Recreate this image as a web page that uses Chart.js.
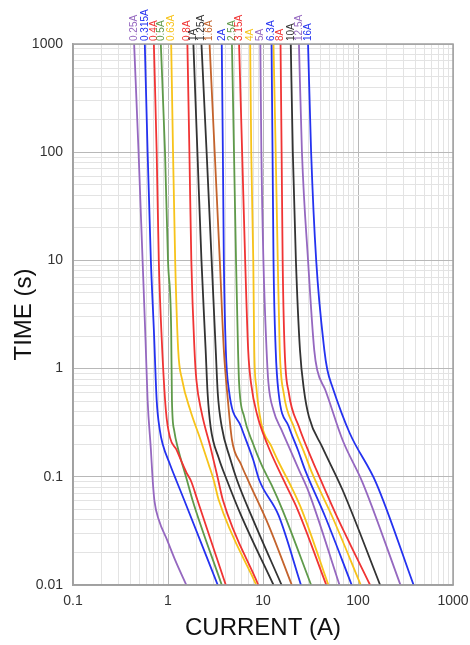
<!DOCTYPE html>
<html>
<head>
<meta charset="utf-8">
<script src="https://cdn.jsdelivr.net/npm/chart.js@4.4.1/dist/chart.umd.min.js"></script>
<style>
  html, body { margin: 0; padding: 0; background: #fff; }
  #wrap { width: 470px; height: 645px; }
</style>
</head>
<body>
<div id="wrap"><canvas id="fuseChart" width="470" height="645"></canvas></div>
<script>
// fuse ratings, left to right (the unlabeled yellow curve sits under the 6.3A / 8A labels)
const ratings = ['0.25A', '0.315A', '0.4A', '0.5A', '0.63A', '0.8A', '1A', '1.25A', '1.6A', '2A',
                 '2.5A', '3.15A', '4A', '5A', '6.3A', '', '8A', '10A', '12.5A', '16A'];

// [current (A), time (s)]
const a0_25  = [[0.44,1000],[0.49,100],[0.54,10],[0.58,1.84],[0.61,0.51],[0.66,0.18],[0.69,0.093],[0.72,0.06],[0.80,0.04],[0.98,0.026],[1.19,0.017],[1.56,0.01]];
const a0_315 = [[0.57,1000],[0.61,100],[0.66,10],[0.71,2.27],[0.76,0.51],[0.82,0.27],[0.88,0.20],[1.05,0.13],[1.22,0.093],[1.48,0.061],[3.34,0.01]];
const a0_4   = [[0.71,1000],[0.76,100],[0.80,10],[0.86,1.84],[0.95,0.41],[1.05,0.23],[1.22,0.18],[1.38,0.14],[1.56,0.11],[1.76,0.09],[2.04,0.061],[4.06,0.01]];
const a0_5   = [[0.84,1000],[0.93,100],[1.0,10],[1.08,2.27],[1.10,0.51],[1.16,0.27],[1.28,0.18],[1.56,0.0975],[1.81,0.061],[3.68,0.01]];
const a0_63  = [[1.08,1000],[1.13,100],[1.19,10],[1.28,1.49],[1.41,0.785],[1.72,0.41],[2.20,0.22],[2.68,0.13],[3.03,0.093],[3.42,0.061],[8.5,0.01]];
const a0_8   = [[1.60,1000],[1.68,100],[1.76,10],[1.90,1.49],[1.99,0.785],[2.25,0.40],[2.81,0.185],[3.34,0.0975],[3.78,0.061],[8.93,0.01]];
const a1     = [[1.85,1000],[2.04,100],[2.25,10],[2.49,1.49],[2.61,0.595],[2.81,0.29],[3.42,0.149],[4.17,0.093],[5.88,0.044],[12.9,0.01]];
const a1_25  = [[2.25,1000],[2.55,100],[2.88,10],[3.18,1.49],[3.34,0.595],[3.68,0.29],[4.49,0.149],[5.33,0.093],[7.52,0.044],[15.7,0.01]];
const a1_6   = [[2.74,1000],[3.10,100],[3.51,10],[3.87,1.49],[4.27,0.51],[4.71,0.22],[5.88,0.13],[7.16,0.088],[11.4,0.036],[20.1,0.01]];
const a2     = [[3.68,1000],[3.78,100],[3.87,10],[4.06,1.49],[4.38,0.63],[5.88,0.29],[7.90,0.143],[9.15,0.093],[14.6,0.044],[25.1,0.01]];
const a2_5   = [[4.71,1000],[4.95,100],[5.20,10],[5.46,1.49],[5.60,0.74],[6.33,0.36],[7.90,0.20],[9.61,0.13],[12.3,0.084],[16.1,0.049],[32.1,0.01]];
const a3_15  = [[5.60,1000],[6.03,100],[6.49,10],[6.98,1.49],[7.52,0.71],[8.71,0.37],[11.1,0.20],[16.5,0.093],[23.3,0.049],[46.4,0.01]];
const a4     = [[7.33,1000],[7.52,100],[7.90,10],[8.09,1.49],[8.50,0.68],[9.61,0.31],[12.3,0.19],[14.6,0.137],[20.1,0.079],[25.7,0.049],[48.8,0.01]];
const a5     = [[9.38,1000],[9.61,100],[10.1,10],[10.9,1.49],[11.4,0.74],[12.9,0.41],[15.7,0.27],[18.7,0.19],[23.9,0.116],[30.5,0.071],[63.9,0.01]];
const a6_3   = [[12.3,1000],[12.6,100],[12.9,10],[13.6,1.49],[14.6,0.595],[18.7,0.29],[23.3,0.177],[27.7,0.116],[45.3,0.0425],[85.9,0.01]];
const aYel   = [[12.9,1000],[13.6,100],[14.3,10],[15.0,1.49],[16.5,0.595],[21.1,0.29],[27.0,0.17],[32.9,0.108],[53.8,0.0425],[107,0.01]];
const a8     = [[15.3,1000],[15.7,100],[16.1,10],[16.9,1.49],[18.7,0.595],[23.9,0.29],[29.1,0.185],[35.4,0.123],[57.9,0.046],[134,0.01]];
const a10    = [[19.6,1000],[20.6,100],[22.2,10],[24.5,1.49],[27.0,0.634],[30.5,0.357],[42.1,0.188],[68.8,0.0755],[171,0.01]];
const a12_5  = [[23.9,1000],[25.7,100],[29.8,10],[34.6,1.49],[37.2,0.97],[45.3,0.634],[68.8,0.219],[112,0.088],[280,0.01]];
const a16    = [[29.8,1000],[32.1,100],[36.3,10],[44.2,1.49],[47.6,0.97],[53.8,0.676],[81.7,0.254],[155,0.088],[385,0.01]];

const curves = [a0_25, a0_315, a0_4, a0_5, a0_63, a0_8, a1, a1_25, a1_6, a2,
                a2_5, a3_15, a4, a5, a6_3, aYel, a8, a10, a12_5, a16];

// decade tick labels
const xTicks = [0.1, 1, 10, 100, 1000];
const yTicks = [0.01, 0.1, 1, 10, 100, 1000];

// colours
const PURPLE = '#9568c0', BLUE = '#2432f0', RED = '#f03434', GREEN = '#5f9a4a',
      YELLOW = '#f7c31a', BLACK = '#333333', BROWN = '#c4632c';
const lineColors = [PURPLE, BLUE, RED, GREEN, YELLOW, RED, BLACK, BLACK, BROWN, BLUE,
                    GREEN, RED, YELLOW, PURPLE, BLUE, YELLOW, RED, BLACK, PURPLE, BLUE];

Chart.defaults.font.family = '"Liberation Sans", Arial, Helvetica, sans-serif';

// 1..9 ticks in every decade
function logTicks(decades) {
  const out = [];
  for (let i = 0; i < decades.length - 1; i++) {
    for (let k = 1; k <= 9; k++) out.push({ value: decades[i] * k });
  }
  out.push({ value: decades[decades.length - 1] });
  return out;
}

const gridColor = decades => c => (c.tick && decades.includes(c.tick.value)) ? '#b8b8b8' : '#e3e3e3';

// rotated rating labels above each curve + frame
const ratingLabels = {
  id: 'ratingLabels',
  afterDatasetsDraw(chart) {
    const { ctx, chartArea, scales: { x } } = chart;
    ctx.save();
    ctx.strokeStyle = '#a0a0a0';
    ctx.lineWidth = 1.5;
    ctx.strokeRect(chartArea.left, chartArea.top, chartArea.right - chartArea.left, chartArea.bottom - chartArea.top);
    ctx.font = '10px "Liberation Sans", Arial, sans-serif';
    ctx.textAlign = 'left';
    ctx.textBaseline = 'middle';
    chart.data.datasets.forEach(ds => {
      if (!ds.label) return;
      const px = x.getPixelForValue(ds.data[0].x);
      ctx.save();
      ctx.translate(px, chartArea.top - 3);
      ctx.rotate(-Math.PI / 2);
      ctx.fillStyle = ds.borderColor;
      ctx.fillText(ds.label, 0, 0);
      ctx.restore();
    });
    ctx.restore();
  }
};

const ctx = document.getElementById('fuseChart').getContext('2d');
new Chart(ctx, {
  type: 'line',
  data: {
    datasets: curves.map((pts, i) => ({
      label: ratings[i],
      data: pts.map(([cur, t]) => ({ x: cur, y: t })),
      borderColor: lineColors[i],
      borderWidth: 1.8,
      pointRadius: 0,
      fill: false,
      cubicInterpolationMode: 'monotone'
    }))
  },
  options: {
    responsive: false,
    animation: false,
    devicePixelRatio: 1,
    layout: { padding: { top: 44, right: 0, left: 0, bottom: 0 } },
    plugins: { legend: { display: false }, tooltip: { enabled: false } },
    scales: {
      x: {
        type: 'logarithmic',
        min: 0.1,
        max: 1000,
        afterBuildTicks: s => { s.ticks = logTicks(xTicks); },
        afterFit: s => { s.height = 60; s.paddingRight = 17; s.paddingLeft = 0; },
        ticks: {
          autoSkip: false,
          maxRotation: 0,
          padding: 8,
          color: '#333',
          font: { size: 14 },
          callback: v => xTicks.includes(v) ? String(v) : ''
        },
        grid: { color: gridColor(xTicks), drawTicks: false, lineWidth: 1 },
        border: { color: '#a0a0a0', width: 1.5 },
        title: { display: true, text: 'CURRENT (A)', color: '#111', font: { size: 24 }, padding: { top: 0, bottom: 2 } }
      },
      y: {
        type: 'logarithmic',
        min: 0.01,
        max: 1000,
        afterBuildTicks: s => { s.ticks = logTicks(yTicks); },
        afterFit: s => { s.width = 73; s.paddingTop = 0; s.paddingBottom = 0; },
        ticks: {
          autoSkip: false,
          padding: 10,
          color: '#333',
          font: { size: 14 },
          callback: v => yTicks.includes(v) ? String(v) : ''
        },
        grid: { color: gridColor(yTicks), drawTicks: false, lineWidth: 1 },
        border: { color: '#a0a0a0', width: 1.5 },
        title: { display: true, text: 'TIME (s)', color: '#111', font: { size: 24 }, padding: { top: 10, bottom: 0 } }
      }
    }
  },
  plugins: [ratingLabels]
});
</script>
</body>
</html>
